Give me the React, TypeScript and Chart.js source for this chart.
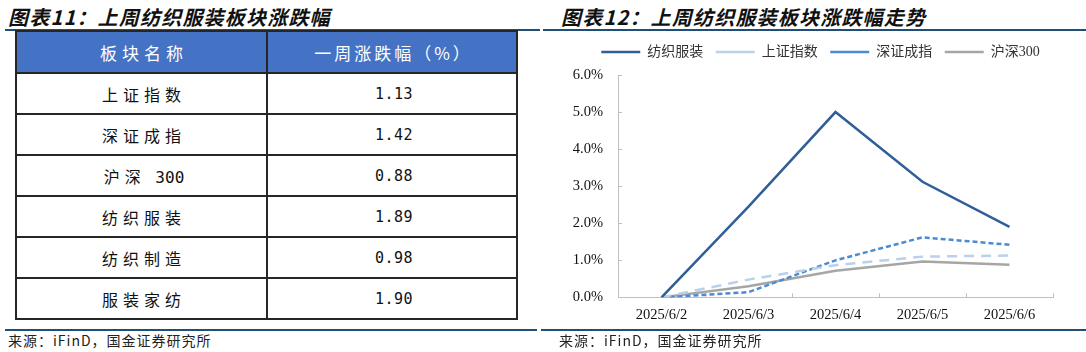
import React, { useEffect, useRef } from 'react';
import { Chart, registerables } from 'chart.js';

Chart.register(...registerables);

// ---------- Data ----------
const leftTitle = '图表11：上周纺织服装板块涨跌幅';
const rightTitle = '图表12：上周纺织服装板块涨跌幅走势';
const sourceText = '来源：iFinD，国金证券研究所';

const tableHeaders = ['板块名称', '一周涨跌幅（%）'];
const tableNames = ['上证指数', '深证成指', '沪深 300', '纺织服装', '纺织制造', '服装家纺'];
const tableValues = ['1.13', '1.42', '0.88', '1.89', '0.98', '1.90'];

const categories = ['2025/6/2', '2025/6/3', '2025/6/4', '2025/6/5', '2025/6/6'];
const seriesNames = ['纺织服装', '上证指数', '深证成指', '沪深300'];
const textileApparel = [0, 2.45, 5.0, 3.12, 1.9];
const shanghaiComposite = [0, 0.48, 0.87, 1.1, 1.13];
const shenzhenComponent = [0, 0.14, 1.0, 1.62, 1.42];
const csi300 = [0, 0.3, 0.72, 0.97, 0.88];
const yTickLabels = ['0.0%', '1.0%', '2.0%', '3.0%', '4.0%', '5.0%', '6.0%'];

// ---------- Styles ----------
const CJK = "'Noto Sans CJK SC', sans-serif";
const SERIF_CJK = "'Liberation Serif', 'Noto Sans CJK SC', serif";
const NUM = "'DejaVu Sans Mono', 'Noto Sans CJK SC', monospace";
const lineBlue = '#1f4e79';
const tableBorder = '2px solid #262626';

const legendTweaks = {
  id: 'legendTweaks',
  beforeLayout(chart: any) {
    const lg = chart.legend;
    if (lg && !lg.__patched) {
      const orig = lg.fit;
      lg.fit = function () {
        orig.call(this);
        this.height += 6;
      };
      lg.__patched = true;
    }
  },
  afterLayout(chart: any) {
    if (chart.legend) chart.legend.left += 40;
  },
};

function LineChart() {
  const ref = useRef<HTMLCanvasElement | null>(null);
  useEffect(() => {
    if (!ref.current) return;
    const axisColor = '#bfbfbf';
    const chart = new Chart(ref.current, {
      type: 'line',
      data: {
        labels: categories,
        datasets: [
          {
            label: seriesNames[0],
            data: textileApparel,
            borderColor: '#2f5e98',
            backgroundColor: '#2f5e98',
            borderWidth: 2.5,
            pointRadius: 0,
            tension: 0,
          },
          {
            label: seriesNames[1],
            data: shanghaiComposite,
            borderColor: '#b9d1ec',
            backgroundColor: '#b9d1ec',
            borderWidth: 2.5,
            borderDash: [10, 7],
            pointRadius: 0,
            tension: 0,
          },
          {
            label: seriesNames[2],
            data: shenzhenComponent,
            borderColor: '#4a8bd3',
            backgroundColor: '#4a8bd3',
            borderWidth: 2.5,
            borderDash: [5, 3],
            pointRadius: 0,
            tension: 0,
          },
          {
            label: seriesNames[3],
            data: csi300,
            borderColor: '#a6a6a6',
            backgroundColor: '#a6a6a6',
            borderWidth: 2.5,
            pointRadius: 0,
            tension: 0,
          },
        ],
      },
      options: {
        animation: false,
        responsive: false,
        devicePixelRatio: 1,
        layout: { padding: { left: 0, right: 33, top: 2.5, bottom: 0 } },
        plugins: {
          tooltip: { enabled: false },
          legend: {
            display: true,
            position: 'top',
            align: 'center',
            labels: {
              usePointStyle: true,
              pointStyle: 'line',
              pointStyleWidth: 39,
              boxWidth: 39,
              boxHeight: 14,
              padding: 12.5,
              color: '#333',
              font: { family: SERIF_CJK, size: 14 },
            },
          },
        },
        scales: {
          x: {
            type: 'category',
            offset: true,
            grid: {
              offset: true,
              drawOnChartArea: false,
              drawTicks: true,
              tickLength: -4,
              color: axisColor,
            },
            border: { display: true, color: axisColor, width: 1 },
            ticks: {
              padding: 12.6,
              color: '#111',
              font: { family: "'Liberation Serif', serif", size: 14.5 },
              maxRotation: 0,
              autoSkip: false,
            },
          },
          y: {
            min: 0,
            max: 6,
            afterFit(scale: any) {
              scale.width = 70;
            },
            grid: {
              drawOnChartArea: false,
              drawTicks: true,
              tickLength: -4,
              color: axisColor,
            },
            border: { display: true, color: axisColor, width: 1 },
            ticks: {
              stepSize: 1,
              padding: 19,
              color: '#111',
              font: { family: "'Liberation Serif', serif", size: 14.5 },
              callback: (v: any) => yTickLabels[Math.round(Number(v))] ?? '',
            },
          },
        },
      },
      plugins: [legendTweaks],
    } as any);
    return () => chart.destroy();
  }, []);
  return (
    <canvas
      ref={ref}
      width={538}
      height={306}
      style={{ position: 'absolute', left: 548, top: 30, width: 538, height: 306 }}
    />
  );
}

const titleStyle: React.CSSProperties = {
  position: 'absolute',
  top: 6,
  fontFamily: CJK,
  fontSize: 20,
  fontWeight: 'bold',
  fontStyle: 'italic',
  letterSpacing: '1.2px',
  lineHeight: '22px',
  color: '#111',
  whiteSpace: 'nowrap',
};

const sourceStyle: React.CSSProperties = {
  position: 'absolute',
  top: 331,
  fontFamily: CJK,
  fontSize: 14,
  letterSpacing: '1px',
  lineHeight: '18px',
  color: '#222',
  whiteSpace: 'nowrap',
};

const cellBase: React.CSSProperties = {
  display: 'flex',
  alignItems: 'center',
  justifyContent: 'center',
  boxSizing: 'border-box',
  whiteSpace: 'pre',
};

// CJK characters get wide spacing; Latin digits keep normal spacing
function SpacedText({ text, spacing }: { text: string; spacing: number }) {
  const parts = text.match(/[\u3000-\u9fff\uff00-\uffef]+|[^\u3000-\u9fff\uff00-\uffef]+/g) || [];
  return (
    <span style={{ paddingLeft: spacing }}>
      {parts.map((p, i) => {
        const isCjk = /[\u3000-\u9fff\uff00-\uffef]/.test(p);
        return (
          <span key={i} style={{ letterSpacing: isCjk ? `${spacing}px` : '0px' }}>
            {p}
          </span>
        );
      })}
    </span>
  );
}

function DataTable() {
  return (
    <div
      style={{
        position: 'absolute',
        left: 15,
        top: 30,
        width: 503,
        boxSizing: 'border-box',
        border: tableBorder,
        background: '#fff',
      }}
    >
      <div style={{ display: 'flex', height: 40, background: '#4472c4', color: '#fff' }}>
        <div
          style={{
            ...cellBase,
            width: 251,
            borderRight: tableBorder,
            fontFamily: CJK,
            fontSize: 17,
            letterSpacing: '5px',
            paddingLeft: 5,
          }}
        >
          {tableHeaders[0]}
        </div>
        <div
          style={{
            ...cellBase,
            flex: 1,
            fontFamily: CJK,
            fontSize: 17,
            letterSpacing: '3px',
            paddingLeft: 3,
          }}
        >
          {tableHeaders[1]}
        </div>
      </div>
      {tableNames.map((name, i) => (
        <div key={name} style={{ display: 'flex', height: 39, borderTop: tableBorder, color: '#111' }}>
          <div
            style={{
              ...cellBase,
              width: 251,
              borderRight: tableBorder,
              fontFamily: NUM,
              fontSize: 16,
            }}
          >
            <SpacedText text={name} spacing={5} />
          </div>
          <div style={{ ...cellBase, flex: 1, fontFamily: NUM, fontSize: 15, letterSpacing: '0.5px', paddingLeft: 4 }}>
            {tableValues[i]}
          </div>
        </div>
      ))}
    </div>
  );
}

export default function App() {
  return (
    <div
      style={{
        position: 'fixed',
        left: 0,
        top: 0,
        width: 1086,
        height: 352,
        overflow: 'hidden',
        background: '#fff',
      }}
    >
      <div style={{ ...titleStyle, left: 8 }}>{leftTitle}</div>
      <div style={{ ...titleStyle, left: 561 }}>{rightTitle}</div>
      <div style={{ position: 'absolute', left: 5, top: 29, width: 535, height: 2, background: lineBlue }} />
      <div style={{ position: 'absolute', left: 543, top: 29, width: 543, height: 2, background: lineBlue }} />
      <DataTable />
      <LineChart />
      <div style={{ position: 'absolute', left: 5, top: 329, width: 532, height: 2, background: lineBlue }} />
      <div style={{ position: 'absolute', left: 541, top: 329, width: 545, height: 2, background: lineBlue }} />
      <div style={{ ...sourceStyle, left: 8 }}>{sourceText}</div>
      <div style={{ ...sourceStyle, left: 559 }}>{sourceText}</div>
    </div>
  );
}
